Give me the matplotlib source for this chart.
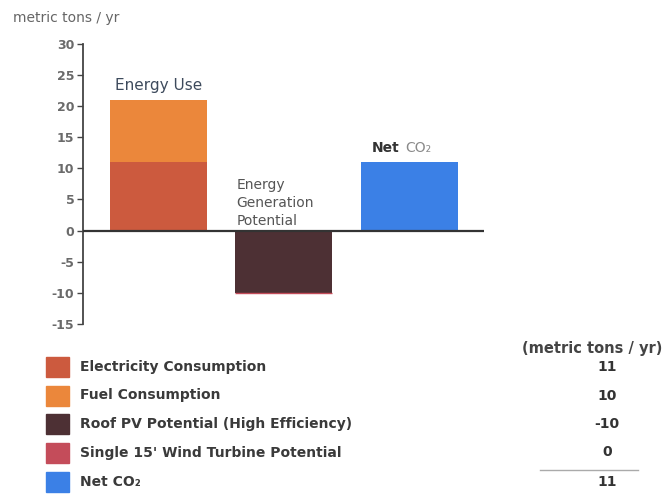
import matplotlib.pyplot as plt
from matplotlib.patches import Rectangle

# annual CO2 figures, metric tons / yr
electricity = 11
fuel = 10
roof_pv = -10
wind = 0
net_co2 = 11

legend_labels = ['Electricity Consumption', 'Fuel Consumption',
                 'Roof PV Potential (High Efficiency)',
                 "Single 15' Wind Turbine Potential", 'Net CO\u2082']
legend_values = [electricity, fuel, roof_pv, wind, net_co2]
yticks = [-15, -10, -5, 0, 5, 10, 15, 20, 25, 30]

c_elec = '#cc5a3e'
c_fuel = '#eb873b'
c_pv = '#4d3034'
c_wind = '#c44c5a'
c_net = '#3b80e6'
colors = [c_elec, c_fuel, c_pv, c_wind, c_net]

plt.rcParams['font.family'] = ['DejaVu Sans']
plt.rcParams['axes.unicode_minus'] = False

fig = plt.figure(figsize=(6.68, 4.95), dpi=100)
ax = fig.add_axes([0.124, 0.345, 0.6, 0.567])

w = 0.77
# energy use: electricity + fuel stacked
ax.bar(0, electricity, w, color=c_elec)
ax.bar(0, fuel, w, bottom=electricity, color=c_fuel)
# generation potential: roof PV + wind stacked below zero
ax.bar(1, roof_pv, w, color=c_pv)
ax.bar(1, -wind, w, bottom=roof_pv, color=c_wind, edgecolor=c_wind, linewidth=1)
ax.bar(2, net_co2, w, color=c_net)

ax.axhline(0, color='#333333', lw=1.6, zorder=3)

ax.set_xlim(-0.6, 2.59)
ax.set_ylim(-15, 30)
ax.set_yticks(yticks)
ax.set_xticks([])
for s in ['top', 'right', 'bottom']:
    ax.spines[s].set_visible(False)
ax.spines['left'].set_color('#444444')
ax.spines['left'].set_linewidth(1.3)
ax.tick_params(axis='y', length=4, width=1, colors='#444444', labelsize=9, pad=2,
               labelcolor='#6a6a6a')
for t in ax.get_yticklabels():
    t.set_fontweight('bold')

ax.text(0, electricity + fuel + 1.0, 'Energy Use', ha='center', va='bottom',
        fontsize=11, color='#3d4a5c')
ax.text(0.625, 0.5, 'Energy\nGeneration\nPotential', ha='left', va='bottom',
        fontsize=10, color='#555555', linespacing=1.35)
ax.text(1.7, net_co2 + 1.2, 'Net', ha='left', va='bottom',
        fontsize=10, color='#333333', fontweight='bold')
ax.text(1.97, net_co2 + 1.2, 'CO\u2082', ha='left', va='bottom',
        fontsize=10, color='#8a8a8a')

fig.text(13 / 668, 1 - 18 / 495, 'metric tons / yr', fontsize=10, color='#666666',
         ha='left', va='center')

# legend with value column
row_y = [367, 395.5, 424, 452.5, 482]
for lab, val, col, y in zip(legend_labels, legend_values, colors, row_y):
    yf = 1 - y / 495
    fig.patches.append(Rectangle((46 / 668, yf - 10 / 495), 23 / 668, 20 / 495,
                                 transform=fig.transFigure, color=col))
    fig.text(80 / 668, yf, lab, fontsize=10, color='#3a3a3a', ha='left',
             va='center', fontweight='bold')
    fig.text(607 / 668, yf, f'{val:d}', fontsize=10, color='#333333',
             ha='center', va='center', fontweight='bold')

fig.text(592 / 668, 1 - 348 / 495, '(metric tons / yr)', fontsize=10.5,
         color='#444444', ha='center', va='center', fontweight='bold')
fig.add_artist(plt.Line2D([540 / 668, 638 / 668], [1 - 470 / 495] * 2,
                          color='#aaaaaa', lw=1, transform=fig.transFigure))

fig.savefig('out.png', dpi=100, facecolor='white')
